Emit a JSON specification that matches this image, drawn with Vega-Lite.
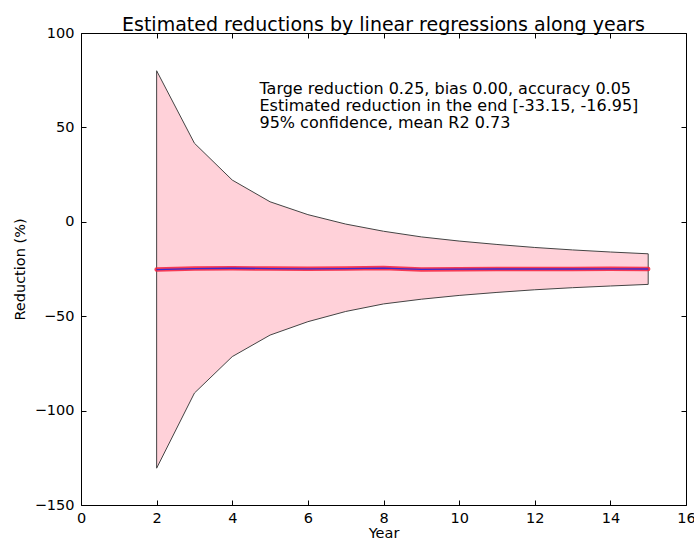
{
  "$schema": "https://vega.github.io/schema/vega-lite/v6.json",
  "autosize": "none",
  "width": 605,
  "height": 472,
  "padding": {"left": 81, "top": 33, "right": 8, "bottom": 35},
  "config": {
    "font": "DejaVu Sans",
    "view": {"stroke": "#000", "strokeWidth": 1},
    "axis": {"grid": false, "domain": false, "labelFlush": false, "tickColor": "#000", "tickSize": -5, "labelFont": "DejaVu Sans", "labelFontSize": 14.5, "labelColor": "#000", "titleFont": "DejaVu Sans", "titleFontSize": 14.5, "titleFontWeight": "normal", "titleColor": "#000"}
  },
  "title": {"text": "Estimated reductions by linear regressions along years", "fontSize": 19, "fontWeight": "normal", "font": "DejaVu Sans", "color": "#000", "offset": -25, "baseline": "alphabetic"},
  "resolve": {"axis": {"x": "independent", "y": "independent"}},
  "data": {"values": [
    {"year": 2, "lo": -130.5, "hi": 80.0, "mean": -25.3},
    {"year": 3, "lo": -90.7, "hi": 41.6, "mean": -24.8},
    {"year": 4, "lo": -71.4, "hi": 22.1, "mean": -24.6},
    {"year": 5, "lo": -60.0, "hi": 10.6, "mean": -24.8},
    {"year": 6, "lo": -52.9, "hi": 3.8, "mean": -24.9},
    {"year": 7, "lo": -47.5, "hi": -1.2, "mean": -24.8},
    {"year": 8, "lo": -43.5, "hi": -5.0, "mean": -24.5},
    {"year": 9, "lo": -41.0, "hi": -8.0, "mean": -25.2},
    {"year": 10, "lo": -39.0, "hi": -10.2, "mean": -25.1},
    {"year": 11, "lo": -37.4, "hi": -12.0, "mean": -25.0},
    {"year": 12, "lo": -36.0, "hi": -13.6, "mean": -25.0},
    {"year": 13, "lo": -34.9, "hi": -14.9, "mean": -25.0},
    {"year": 14, "lo": -34.0, "hi": -16.0, "mean": -24.9},
    {"year": 15, "lo": -33.15, "hi": -16.95, "mean": -25.0}
  ]},
  "layer": [
    {
      "mark": {"type": "area", "fill": "#ffd1d9", "stroke": "#444", "strokeWidth": 1},
      "encoding": {
        "x": {"field": "year", "type": "quantitative", "scale": {"domain": [0, 16], "nice": false}, "axis": {"orient": "bottom", "values": [0,2,4,6,8,10,12,14,16], "title": "Year", "labelPadding": 11, "titleY": 32, "titleBaseline": "alphabetic"}},
        "y": {"field": "lo", "type": "quantitative", "scale": {"domain": [-150, 100], "nice": false}, "axis": {"orient": "left", "values": [-150,-100,-50,0,50,100], "title": "Reduction (%)", "labelPadding": 12, "titleX": -61, "titleBaseline": "middle"}},
        "y2": {"field": "hi"}
      }
    },
    {
      "mark": {"type": "line", "color": "#f5203c", "strokeWidth": 4.5, "opacity": 0.85, "strokeCap": "round"},
      "encoding": {
        "x": {"field": "year", "type": "quantitative", "axis": {"orient": "top", "values": [0,2,4,6,8,10,12,14,16], "labels": false, "title": null}},
        "y": {"field": "mean", "type": "quantitative", "axis": {"orient": "right", "values": [-150,-100,-50,0,50,100], "labels": false, "title": null}}
      }
    },
    {
      "mark": {"type": "line", "color": "#3a2ad0", "strokeWidth": 1.3},
      "encoding": {"x": {"field": "year", "type": "quantitative", "axis": null}, "y": {"field": "mean", "type": "quantitative", "axis": null}}
    },
    {
      "data": {"values": [
        {"x": 4.72, "y": 67.7, "t": "Targe reduction 0.25, bias 0.00, accuracy 0.05"},
        {"x": 4.72, "y": 58.7, "t": "Estimated reduction in the end [-33.15, -16.95]"},
        {"x": 4.72, "y": 49.6, "t": "95% confidence, mean R2 0.73"}
      ]},
      "mark": {"type": "text", "align": "left", "baseline": "alphabetic", "fontSize": 16, "font": "DejaVu Sans", "color": "#000"},
      "encoding": {"x": {"field": "x", "type": "quantitative", "axis": null}, "y": {"field": "y", "type": "quantitative", "axis": null}, "text": {"field": "t"}}
    }
  ]
}
